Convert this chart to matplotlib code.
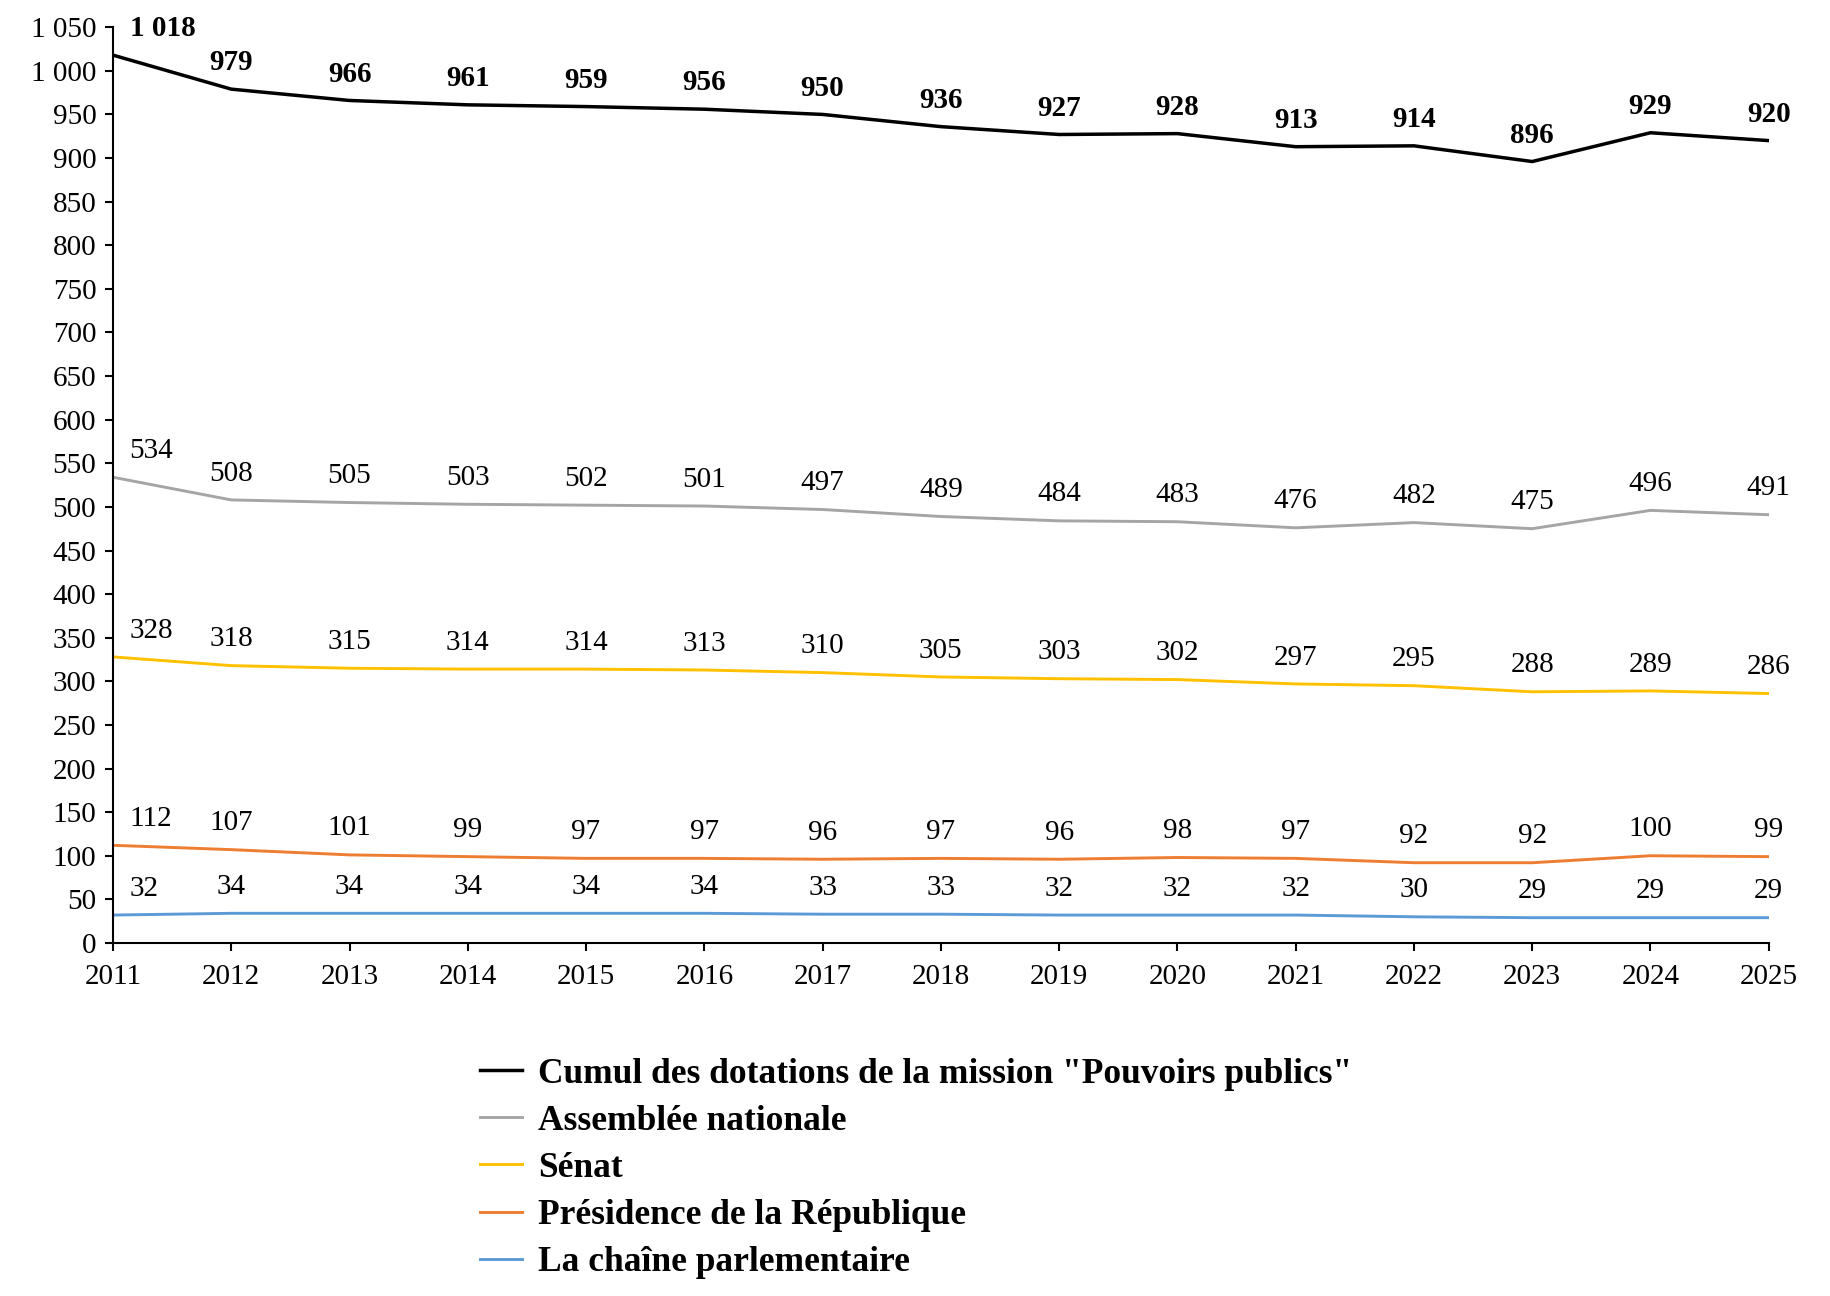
import matplotlib.pyplot as plt
from matplotlib.ticker import FuncFormatter

years = list(range(2011, 2026))

total = [1018, 979, 966, 961, 959, 956, 950, 936, 927, 928, 913, 914, 896, 929, 920]
assemblee = [534, 508, 505, 503, 502, 501, 497, 489, 484, 483, 476, 482, 475, 496, 491]
senat = [328, 318, 315, 314, 314, 313, 310, 305, 303, 302, 297, 295, 288, 289, 286]
presidence = [112, 107, 101, 99, 97, 97, 96, 97, 96, 98, 97, 92, 92, 100, 99]
lcp = [32, 34, 34, 34, 34, 34, 33, 33, 32, 32, 32, 30, 29, 29, 29]

labels = [
    'Cumul des dotations de la mission "Pouvoirs publics"',
    "Assemblée nationale",
    "Sénat",
    "Présidence de la République",
    "La chaîne parlementaire",
]
colors = ["#000000", "#A5A5A5", "#FFC000", "#ED7D31", "#5B9BD5"]

plt.rcParams.update({
    "font.family": ["Liberation Serif", "DejaVu Serif"],
    "font.size": 21,
})

fig = plt.figure(figsize=(18.31, 12.96), dpi=100)
ax = fig.add_axes([0.0617, 0.2724, 0.9043, 0.7066])

series = [total, assemblee, senat, presidence, lcp]
for i, (vals, lab, col) in enumerate(zip(series, labels, colors)):
    ax.plot(years, vals, color=col, lw=2.5 if i == 0 else 2.1, label=lab)
    for j, (x, v) in enumerate(zip(years, vals)):
        txt = f"{v:,}".replace(",", " ")
        if j == 0:
            ax.annotate(txt, (x, v), xytext=(12, 19), textcoords="offset points",
                        ha="left", va="center", fontsize=21,
                        fontweight="bold" if i == 0 else "normal")
        else:
            ax.annotate(txt, (x, v), xytext=(0, 19), textcoords="offset points",
                        ha="center", va="center", fontsize=21,
                        fontweight="bold" if i == 0 else "normal")

ax.set_xlim(2011, 2025)
ax.set_ylim(0, 1050)
ax.set_xticks(years)
ax.set_yticks(range(0, 1051, 50))
ax.yaxis.set_major_formatter(FuncFormatter(lambda v, p: f"{int(v):,}".replace(",", " ")))

for s in ["top", "right"]:
    ax.spines[s].set_visible(False)
for s in ["left", "bottom"]:
    ax.spines[s].set_linewidth(1.5)
ax.tick_params(direction="out", length=6, width=1.5, labelsize=21)
ax.tick_params(axis="x", pad=9)
ax.tick_params(axis="y", pad=6)

fig.legend(loc="upper left", bbox_to_anchor=(0.262, 0.184), frameon=False,
           borderaxespad=0, borderpad=0, handlelength=1.2, handletextpad=0.45,
           labelspacing=0.4, prop={"weight": "bold", "size": 25.5})

fig.savefig("out.png", dpi=100)
